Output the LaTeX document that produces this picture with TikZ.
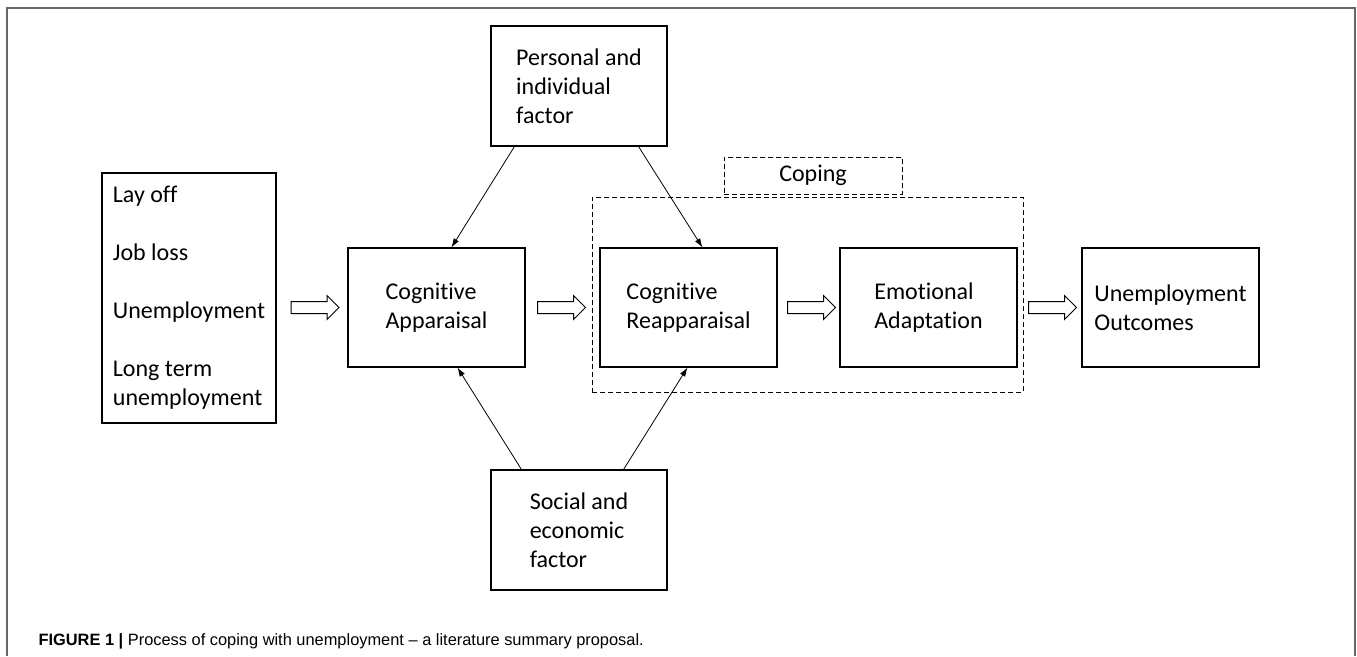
\documentclass[tikz,border=0pt]{standalone}
\usepackage{fontspec}
\setmainfont{Carlito}[Ligatures=NoCommon]
\newfontfamily\capfont{Liberation Sans}
\usetikzlibrary{arrows.meta,shapes.arrows,calc}
\tikzset{block/.style = {draw, line width=1.1pt, rectangle, align=left, minimum width=177pt, minimum height=119pt, font=\fontsize{24}{29}\selectfont},
         lblock/.style = {block, minimum width=174pt, minimum height=250pt},
         dblock/.style = {draw, line width=1pt, dash pattern=on 5pt off 3pt, rectangle, font=\fontsize{24}{29}\selectfont},
         hollow/.style = {draw, line width=1pt, single arrow, inner sep=5.5pt, single arrow head extend=6pt, minimum height=48pt},
         link/.style = {-{Latex[length=9pt,width=6pt]}, line width=0.8pt}}

\begin{document}
\begin{tikzpicture}[x=1pt,y=-1pt]
    \useasboundingbox (0,0) rectangle (1357,656);
    \draw[black!60, line width=1.5pt] (7,656) -- (7,8) -- (1355,8) -- (1355,656);
    % boxes
    \node[lblock](events)at(189,298){Lay off\\[29pt]Job loss\\[29pt]Unemployment\\[29pt]Long term\\unemployment};
    \node[block](appr)at(436.5,307.5){Cognitive\\Apparaisal};
    \node[block](reappr)at(688.5,307.5){Cognitive\\Reapparaisal};
    \node[block](emo)at(928.5,307.5){Emotional\\Adaptation};
    \node[block](outc)at(1170.5,307.5){Unemployment\\Outcomes};
    \node[block, minimum width=176pt, minimum height=120pt](pers)at(579,86){Personal and\\individual\\factor};
    \node[block, minimum width=176pt, minimum height=120pt](soc)at(579,530){Social and\\economic\\factor};
    \node[dblock, minimum width=431pt, minimum height=195pt](coping)at(807.5,294.5){};
    \node[dblock, minimum width=178pt, minimum height=37pt](copinglbl)at(813,175.5){Coping};
    % hollow arrows
    \node[hollow](h1)at($(events.east|-appr.west)!0.5!(appr.west)$){};
    \node[hollow](h2)at($(appr.east)!0.5!(coping.west|-appr.east)$){};
    \node[hollow](h3)at($(reappr.east)!0.5!(emo.west)$){};
    \node[hollow](h4)at($(emo.east)!0.5!(outc.west)$){};
    % factors
    \draw[link]([xshift=24pt]pers.south west)--([xshift=104pt]appr.north west);
    \draw[link]([xshift=-29pt]pers.south east)--([xshift=103pt]reappr.north west);
    \draw[link]([xshift=31pt]soc.north west)--([xshift=110pt]appr.south west);
    \draw[link]([xshift=-44pt]soc.north east)--([xshift=88pt]reappr.south west);
    \node[anchor=west, font=\capfont\fontsize{16.4}{19}\selectfont](caption)at(35,641){\textbf{FIGURE 1 |} Process of coping with unemployment – a literature summary proposal.};
\end{tikzpicture}
\end{document}
